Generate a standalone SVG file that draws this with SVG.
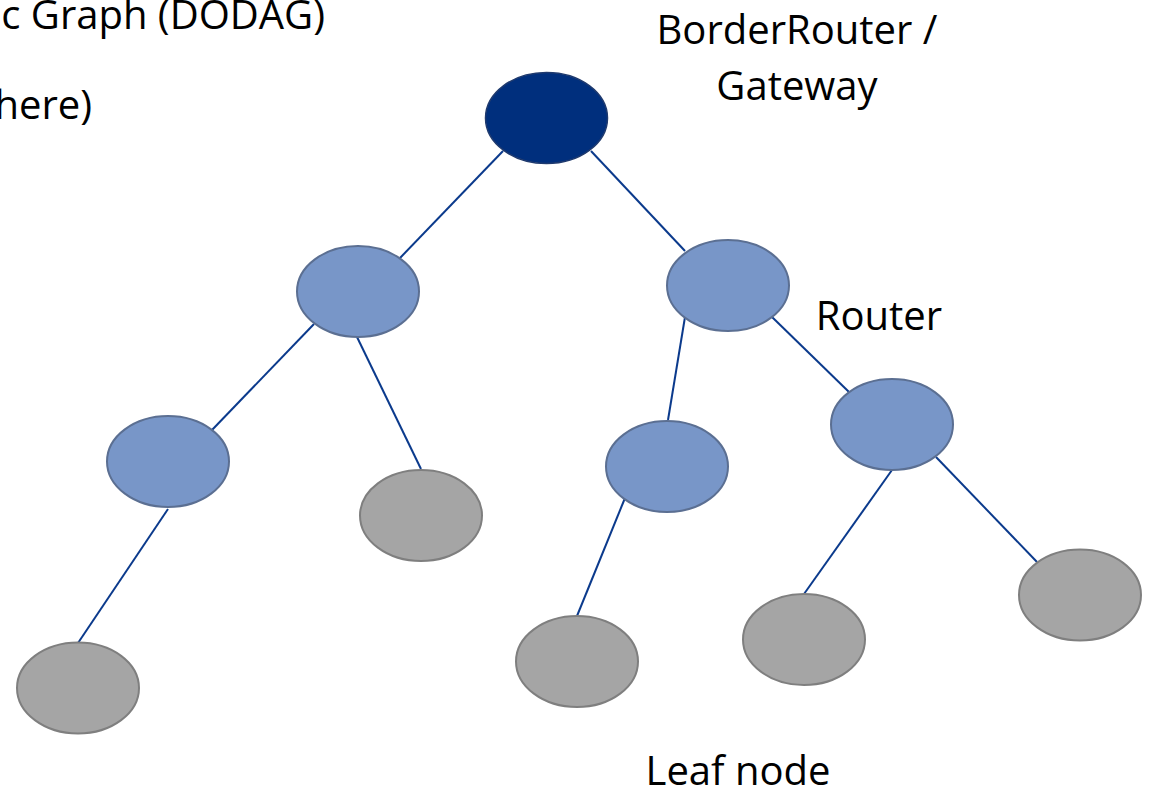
<svg xmlns="http://www.w3.org/2000/svg" width="1158" height="788" viewBox="0 0 1158 788">
<style>
.lbl{font-family:"Open Sans","Liberation Sans",sans-serif;font-size:40px;fill:#000}
.edge{stroke:#0B3A8C;stroke-width:2;fill:none}
.root{fill:#002F7D;stroke:#1F3A6E;stroke-width:1.5}
.router{fill:#7896C8;stroke:#5B6F92;stroke-width:2}
.leaf{fill:#A5A5A5;stroke:#7F7F7F;stroke-width:2}
</style>
<rect width="1158" height="788" fill="#fff"/>
<g id="labels">
<text class="lbl" x="325" y="29" text-anchor="end">c Graph (DODAG)</text>
<text class="lbl" x="92" y="119" text-anchor="end">here)</text>
<text class="lbl" x="797" y="44" text-anchor="middle">BorderRouter /</text>
<text class="lbl" x="797" y="100" text-anchor="middle">Gateway</text>
<text class="lbl" x="879" y="330" text-anchor="middle">Router</text>
<text class="lbl" x="738" y="785" text-anchor="middle">Leaf node</text>
</g>
<g id="connectors">
<line class="edge" x1="503" y1="151" x2="400" y2="258"/>
<line class="edge" x1="591" y1="151" x2="685" y2="251"/>
<line class="edge" x1="314" y1="324" x2="212" y2="430"/>
<line class="edge" x1="357" y1="337" x2="421" y2="469"/>
<line class="edge" x1="685" y1="317" x2="668" y2="420"/>
<line class="edge" x1="772" y1="317" x2="849" y2="392"/>
<line class="edge" x1="168" y1="509" x2="78" y2="643"/>
<line class="edge" x1="625" y1="498" x2="577" y2="616"/>
<line class="edge" x1="892" y1="470" x2="804" y2="594"/>
<line class="edge" x1="936" y1="457" x2="1037" y2="562"/>
</g>
<g id="root"><ellipse class="root" cx="546.5" cy="118" rx="61" ry="45.5"/></g>
<g id="router-l1"><ellipse class="router" cx="358" cy="291.5" rx="61" ry="45.5"/></g>
<g id="router-r1"><ellipse class="router" cx="728" cy="285.5" rx="61" ry="45.5"/></g>
<g id="router-ll"><ellipse class="router" cx="168" cy="461.5" rx="61" ry="45.5"/></g>
<g id="router-mid"><ellipse class="router" cx="667" cy="466.5" rx="61" ry="45.5"/></g>
<g id="router-far"><ellipse class="router" cx="892" cy="424.5" rx="61" ry="45.5"/></g>
<g id="leaf-1"><ellipse class="leaf" cx="421" cy="515.5" rx="61" ry="45.5"/></g>
<g id="leaf-2"><ellipse class="leaf" cx="78" cy="688" rx="61" ry="45.5"/></g>
<g id="leaf-3"><ellipse class="leaf" cx="577" cy="661.5" rx="61" ry="45.5"/></g>
<g id="leaf-4"><ellipse class="leaf" cx="804" cy="639.5" rx="61" ry="45.5"/></g>
<g id="leaf-5"><ellipse class="leaf" cx="1080" cy="595" rx="61" ry="45.5"/></g>
</svg>
